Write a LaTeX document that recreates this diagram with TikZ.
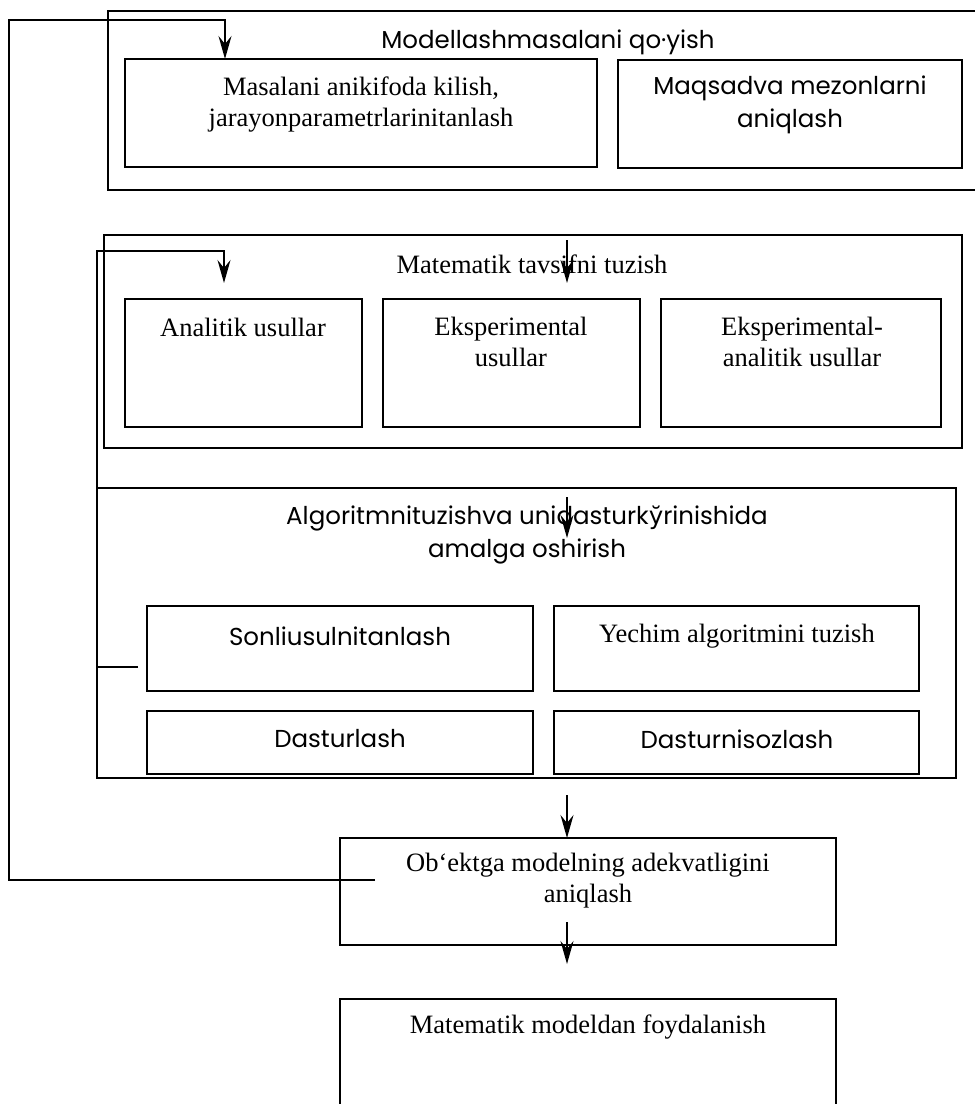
\documentclass[tikz,border=0pt]{standalone}
\usepackage{fontspec}
\setmainfont{Liberation Serif}
\newfontfamily\gothic{Poppins}
\newfontfamily\cyrfont{DejaVu Sans}
\usetikzlibrary{arrows.meta}
\begin{document}
\begin{tikzpicture}[x=1pt,y=-1pt,
  box/.style={draw, line width=1.9pt, inner sep=0pt, outer sep=0pt},
  serif/.style={font=\fontsize{26.5}{31}\selectfont, align=center, inner sep=0pt},
  sans/.style={font=\gothic\fontsize{24.5}{33}\selectfont, align=center, inner sep=0pt},
  arr/.style={line width=1.7pt, -{Stealth[length=23pt,width=13pt,inset=8pt]}},
  fb/.style={line width=1.7pt}]
\useasboundingbox (0,0) rectangle (975,1104);
\clip (0,0) rectangle (975,1104);
\fill[white] (0,0) rectangle (975,1104);

% block 1
\node[box, minimum width=882pt, minimum height=179pt] (B1) at (549,100.5) {};
\node[box, minimum width=472pt, minimum height=108pt] (B1a) at (361,113) {};
\node[box, minimum width=344pt, minimum height=108pt] (B1b) at (790,114) {};
\node[sans] (T1) at (548,42) {Modellashmasalani qo·yish};
\node[serif] (T1a) at (361,105) {Masalani anikifoda kilish,\\jarayonparametrlarinitanlash};
\node[sans] (T1b) at (790,105) {Maqsadva mezonlarni\\aniqlash};

% block 2
\node[box, minimum width=858pt, minimum height=213pt] (B2) at (533,341.5) {};
\node[box, minimum width=237pt, minimum height=128pt] (B2a) at (243.5,363) {};
\node[box, minimum width=257pt, minimum height=128pt] (B2b) at (511.5,363) {};
\node[box, minimum width=280pt, minimum height=128pt] (B2c) at (801,363) {};
\node[serif] (T2) at (532,264) {Matematik tavsifni tuzish};
\node[serif] (T2a) at (243,327) {Analitik usullar};
\node[serif] (T2b) at (511,342) {Eksperimental\\usullar};
\node[serif] (T2c) at (802,342) {Eksperimental-\\analitik usullar};

% block 3
\node[box, minimum width=859pt, minimum height=290pt] (B3) at (526.5,633) {};
\node[box, minimum width=386pt, minimum height=85pt] (B3a) at (340,648.5) {};
\node[box, minimum width=365pt, minimum height=85pt] (B3b) at (736.5,648.5) {};
\node[box, minimum width=386pt, minimum height=63pt] (B3c) at (340,742.5) {};
\node[box, minimum width=365pt, minimum height=63pt] (B3d) at (736.5,742.5) {};
\node[sans] (T3) at (527,535) {Algoritmnituzishva unidasturk{\cyrfont ў}rinishida\\amalga oshirish};
\node[sans] (T3a) at (340,636) {Sonliusulnitanlash};
\node[serif] (T3b) at (737,636) {Yechim algoritmini tuzish};
\node[sans] (T3c) at (340,739) {Dasturlash};
\node[sans] (T3d) at (737,739) {Dasturnisozlash};

% block 4, 5
\node[box, minimum width=496pt, minimum height=107pt] (B4) at (588,891.5) {};
\node[box, minimum width=496pt, minimum height=130pt] (B5) at (588,1064) {};
\node[serif] (T4) at (588,881) {Ob{\char96}ektga modelning adekvatligini\\aniqlash};
\node[serif] (T5) at (588,1027) {Matematik modeldan foydalanish};

% feedback 1
\coordinate (fa0) at (375,880);
\coordinate (fa1) at (9,880);
\coordinate (fa2) at (9,20);
\coordinate (fa3) at (225,20);
\draw[arr] (fa0) -- (fa1) -- (fa2) -- (fa3) -- (fa3 |- B1a.north);

% feedback 2
\coordinate (fb0) at (138,667);
\coordinate (fb1) at (97,667);
\coordinate (fb2) at (97,251);
\coordinate (fb3) at (224,251);
\coordinate (fb4) at (224,283);
\draw[arr] (fb0) -- (fb1) -- (fb2) -- (fb3) -- (fb4);

% vertical arrows
\coordinate (a1s) at (567,240); \coordinate (a1e) at (567,283);
\draw[arr] (a1s) -- (a1e);
\coordinate (a2s) at (567,497); \coordinate (a2e) at (567,538);
\draw[arr] (a2s) -- (a2e);
\coordinate (a3s) at (567,795);
\draw[arr] (a3s) -- (a3s |- B4.north);
\coordinate (a4s) at (567,922); \coordinate (a4e) at (567,964);
\draw[arr] (a4s) -- (a4e);
\end{tikzpicture}
\end{document}
